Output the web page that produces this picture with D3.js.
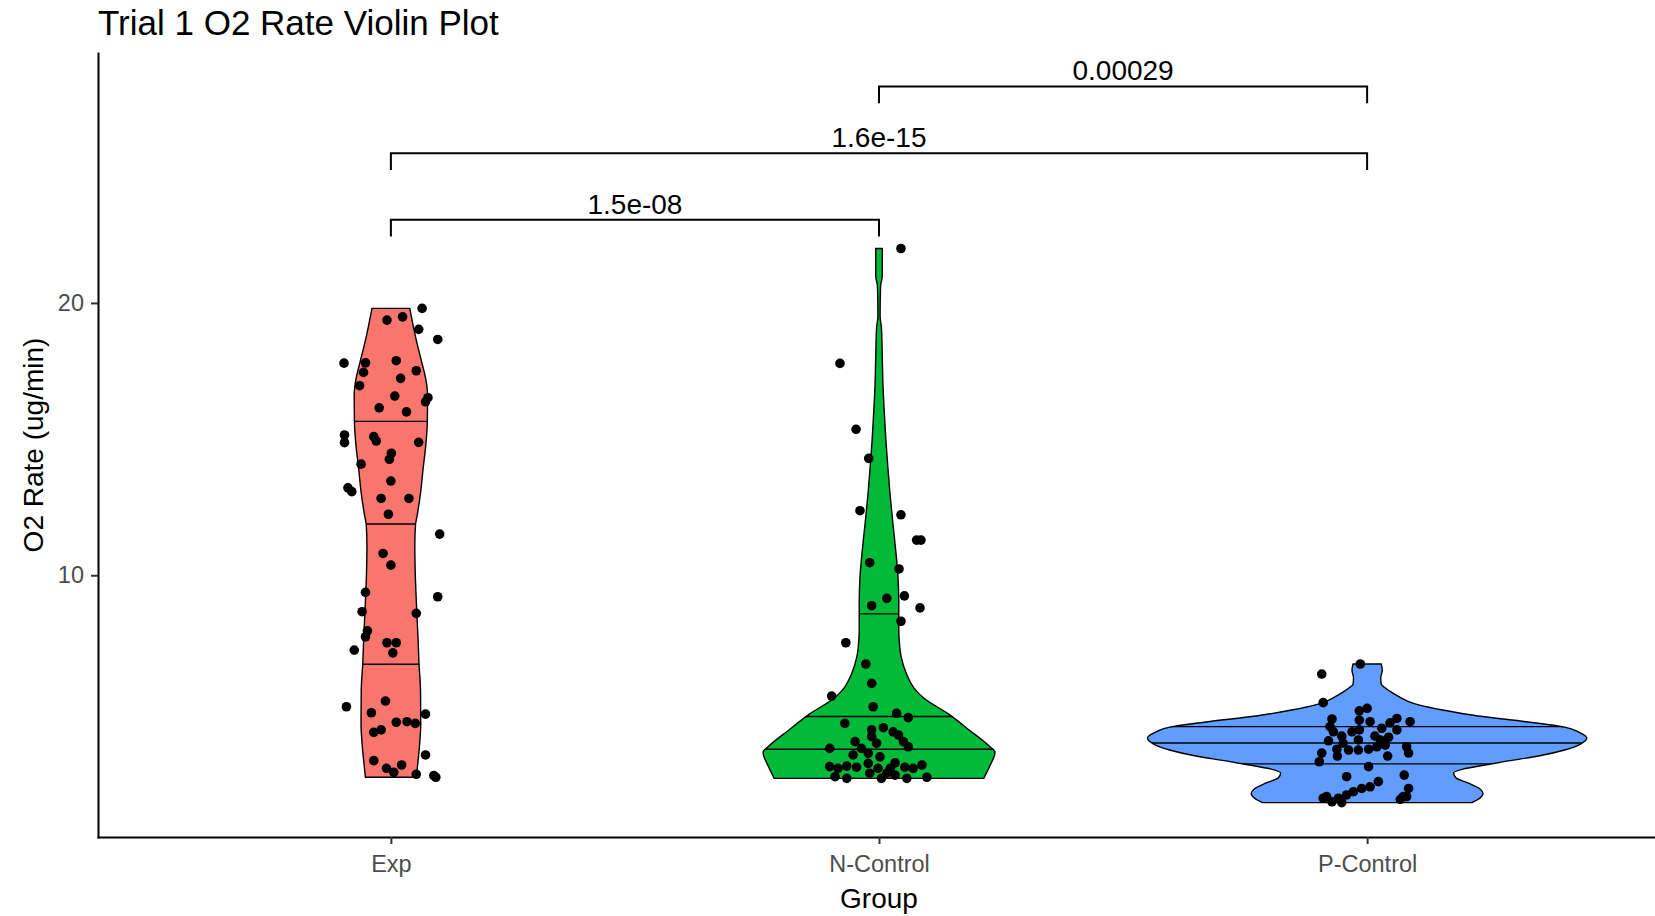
<!DOCTYPE html>

<head>
  <meta charset="utf-8">
  <title>Trial 1 O2 Rate Violin Plot</title>
  <style>
    body {
      margin: 0;
      background: #fff;
    }

    text {
      font-family: "Liberation Sans", Arial, sans-serif;
    }

    .violin {
      stroke: #000;
      stroke-width: 1.4;
    }

    .quant {
      stroke: #000;
      stroke-width: 1.4;
    }

    .axis path {
      stroke: #000;
      stroke-width: 2;
      stroke-linecap: square;
    }

    .axis line {
      stroke: #333;
      stroke-width: 2;
    }

    .axis text {
      fill: #4d4d4d;
      font-size: 23.5px;
    }

    .bracket {
      fill: none;
      stroke: #000;
      stroke-width: 2;
    }
  </style>
</head>

<body>
  <div id="violin"></div>

  <script src="https://d3js.org/d3.v7.min.js"></script>

  <script>
    // ---- data ----
    const groups = ['Exp', 'N-Control', 'P-Control'];
    const yTicks = [10, 20];

    // jittered points: O2 rate and horizontal jitter (fraction of group step)
    const expValues = [19.80, 19.49, 19.37, 19.03, 18.66, 17.79, 17.80, 17.88, 17.45, 17.51,
      17.23, 16.96, 16.58, 16.52, 16.37, 16.15, 16.00, 15.15, 14.87, 15.09,
      14.93, 14.88, 14.48, 14.26, 14.08, 13.21, 13.07, 13.46, 12.82, 12.82,
      12.24, 11.51, 10.80, 10.37, 9.37, 9.21, 8.66, 8.60, 7.96, 7.74,
      7.25, 7.52, 7.52, 7.15, 5.17, 5.38, 4.95, 4.90, 4.60, 4.62,
      4.56, 4.23, 4.32, 3.40, 3.19, 2.91, 2.76, 3.03, 2.69, 2.64, 2.58];
    const expJitter = [0.064, 0.024, -0.008, 0.057, 0.096, -0.096, -0.052, 0.011, -0.056, 0.052,
      0.020, -0.064, 0.008, 0.076, 0.071, -0.024, 0.032, -0.095, -0.095, -0.035,
      -0.030, 0.057, 0.001, -0.003, -0.061, -0.088, -0.080, 0.000, -0.020, 0.037,
      -0.005, 0.100, -0.016, 0.000, -0.052, 0.096, -0.059, 0.052, -0.048, -0.052,
      -0.075, -0.008, 0.011, 0.004, -0.091, -0.011, -0.040, 0.071, 0.011, 0.033,
      0.050, -0.035, -0.020, 0.071, -0.035, -0.009, 0.006, 0.022, 0.052, 0.088, 0.092];

    const nValues = [22.0, 17.78, 15.36, 14.29, 12.37, 12.22, 11.29, 11.29, 10.46, 10.23,
      9.24, 9.15, 8.88, 8.80, 8.31, 7.52, 6.74, 6.03, 5.56, 5.17,
      4.93, 4.77, 4.56, 4.40, 4.32, 4.25, 4.13, 4.07, 3.89, 3.89,
      3.83, 3.70, 3.64, 3.64, 3.40, 3.46, 3.33, 2.97, 2.91, 2.99,
      2.95, 3.09, 2.91, 2.91, 3.11, 2.95, 2.91, 3.03, 2.60, 2.54,
      2.54, 2.54, 2.58, 2.73, 2.73, 2.66];
    const nJitter = [0.045, -0.080, -0.047, -0.021, -0.039, 0.045, 0.077, 0.086, -0.019, 0.041,
      0.052, 0.016, -0.015, 0.084, 0.045, -0.068, -0.027, -0.015, -0.097, -0.012,
      0.036, 0.060, -0.070, 0.009, -0.015, 0.029, 0.040, -0.015, 0.050, -0.049,
      -0.005, 0.060, -0.101, -0.036, -0.053, -0.022, 0.002, -0.101, -0.084, -0.066,
      -0.046, -0.022, -0.002, 0.023, 0.033, 0.053, 0.070, 0.088, -0.090, -0.066,
      0.005, 0.057, 0.098, -0.019, 0.016, 0.033];

    const pValues = [6.74, 6.37, 5.32, 5.02, 5.11, 4.72, 4.68, 4.62, 4.74, 4.62,
      4.58, 4.44, 4.32, 4.25, 4.38, 4.32, 4.25, 4.09, 4.09, 4.05,
      3.95, 3.92, 3.83, 3.95, 3.76, 3.61, 3.58, 3.58, 3.61, 3.70,
      3.70, 3.47, 3.47, 3.36, 3.15, 3.36, 2.97, 2.60, 2.66, 2.42,
      2.23, 2.17, 2.05, 2.17, 1.93, 1.81, 1.87, 1.68, 1.65, 1.87,
      1.87, 1.81, 1.77];
    const pJitter = [-0.014, -0.093, -0.090, -0.016, 0.000, -0.072, -0.016, 0.006, 0.061, 0.088,
      0.047, -0.076, -0.016, -0.069, 0.030, 0.061, -0.031, -0.052, 0.016, 0.044,
      -0.018, -0.079, -0.049, 0.027, 0.037, -0.062, -0.038, -0.018, 0.003, 0.020,
      0.081, 0.085, -0.093, -0.061, -0.098, 0.042, 0.003, -0.042, 0.076, 0.023,
      0.006, -0.011, -0.028, 0.085, -0.042, -0.059, -0.083, -0.072, -0.052, 0.074,
      0.081, -0.090, 0.068];

    // violin outlines: O2 rate and relative density (1 = widest violin)
    const expDensV = [19.80, 19.07, 18.45, 17.84, 17.11, 16.62, 15.64, 14.78, 13.93, 12.95,
      12.21, 11.84, 11.11, 10.07, 8.84, 7.62, 6.76, 5.78, 4.56, 3.70, 2.97, 2.58];
    const expDens = [0.086, 0.104, 0.121, 0.140, 0.161, 0.167, 0.166, 0.159, 0.147, 0.134,
      0.120, 0.112, 0.109, 0.111, 0.117, 0.124, 0.128, 0.135, 0.136, 0.130, 0.121, 0.116];

    const nDensV = [22.0, 21.0, 20.6, 19.5, 19.1, 18.0, 17.0, 16.0, 15.0, 14.0,
      13.0, 12.0, 11.0, 10.0, 9.0, 8.0, 7.5, 7.0, 6.4, 5.8,
      5.5, 4.9, 4.3, 3.7, 3.5, 3.0, 2.54];
    const nDens = [0.015, 0.015, 0.007, 0.005, 0.011, 0.015, 0.018, 0.024, 0.031, 0.040,
      0.050, 0.062, 0.075, 0.086, 0.090, 0.090, 0.093, 0.101, 0.124, 0.165,
      0.202, 0.317, 0.413, 0.505, 0.528, 0.505, 0.477];

    const pDensV = [6.74, 6.52, 6.22, 6.00, 5.86, 5.71, 5.53, 5.38, 5.23, 5.05,
      4.83, 4.61, 4.43, 4.24, 4.02, 3.80, 3.58, 3.36, 3.18, 3.03,
      2.88, 2.74, 2.56, 2.37, 2.15, 1.97, 1.82, 1.65];
    const pDens = [0.064, 0.069, 0.062, 0.064, 0.083, 0.110, 0.147, 0.183, 0.239, 0.344,
      0.505, 0.734, 0.894, 0.963, 1.000, 0.972, 0.899, 0.780, 0.642, 0.537,
      0.436, 0.394, 0.404, 0.459, 0.514, 0.528, 0.514, 0.477];

    // drawn quantiles (25%, 50%, 75%)
    const expQuant = [6.73, 11.88, 15.65];
    const nQuant = [3.61, 4.81, 8.58];
    const pQuant = [3.07, 3.84, 4.44];

    // significance brackets
    const bracketStart = ['Exp', 'Exp', 'N-Control'];
    const bracketEnd = ['N-Control', 'P-Control', 'P-Control'];
    const bracketY = [23.06, 25.50, 27.95];
    const bracketTip = [22.44, 24.88, 27.33];
    const bracketLabels = ['1.5e-08', '1.6e-15', '0.00029'];

    const fills = ['#F8766D', '#00BA38', '#619CFF'];

    // ---- layout ----
    const W = 1655, H = 916;
    const panel = { left: 98, right: 1660, top: 53, bottom: 837 };

    const svg = d3.select('#violin')
      .append('svg')
      .attr('width', W)
      .attr('height', H);

    const x = d3.scalePoint()
      .domain(groups)
      .range([panel.left, panel.right])
      .padding(0.6);

    const y = d3.scaleLinear()
      .domain([0.386, 29.18])
      .range([panel.bottom, panel.top]);

    const step = x.step();
    const maxHalf = 0.45 * step;

    const violins = [
      { g: 'Exp', dv: expDensV, d: expDens, q: expQuant, v: expValues, j: expJitter },
      { g: 'N-Control', dv: nDensV, d: nDens, q: nQuant, v: nValues, j: nJitter },
      { g: 'P-Control', dv: pDensV, d: pDens, q: pQuant, v: pValues, j: pJitter }
    ];

    const defs = svg.append('defs');

    violins.forEach((vl, i) => {
      const cx = x(vl.g);
      const prof = vl.dv.map((v, k) => ({ v: v, d: vl.d[k] }));

      const area = d3.area()
        .curve(d3.curveMonotoneY)
        .y(p => y(p.v))
        .x0(p => cx - p.d * maxHalf)
        .x1(p => cx + p.d * maxHalf);

      defs.append('clipPath')
        .attr('id', 'clip' + i)
        .append('path')
        .attr('d', area(prof));

      svg.append('path')
        .attr('class', 'violin')
        .attr('fill', fills[i])
        .attr('d', area(prof));

      // quantile lines clipped to the violin shape
      svg.append('g')
        .attr('clip-path', `url(#clip${i})`)
        .selectAll('line')
        .data(vl.q)
        .join('line')
        .attr('class', 'quant')
        .attr('x1', cx - maxHalf)
        .attr('x2', cx + maxHalf)
        .attr('y1', d => y(d))
        .attr('y2', d => y(d));
    });

    // jittered points
    violins.forEach(vl => {
      const cx = x(vl.g);
      svg.append('g')
        .selectAll('circle')
        .data(vl.v)
        .join('circle')
        .attr('cx', (d, k) => cx + vl.j[k] * step)
        .attr('cy', d => y(d))
        .attr('r', 4.8)
        .attr('fill', '#000');
    });

    // axes
    svg.append('g')
      .attr('class', 'axis')
      .attr('transform', `translate(0, ${panel.bottom})`)
      .call(d3.axisBottom(x).tickSize(7).tickSizeOuter(0).tickPadding(11));

    svg.append('g')
      .attr('class', 'axis')
      .attr('transform', `translate(${panel.left}, 0)`)
      .call(d3.axisLeft(y).tickValues(yTicks).tickSize(7).tickSizeOuter(0).tickPadding(7));

    // brackets
    bracketLabels.forEach((lab, i) => {
      const x1 = x(bracketStart[i]), x2 = x(bracketEnd[i]);
      const yb = y(bracketY[i]), yt = y(bracketTip[i]);
      svg.append('path')
        .attr('class', 'bracket')
        .attr('d', `M${x1},${yt}V${yb}H${x2}V${yt}`);
      svg.append('text')
        .attr('x', (x1 + x2) / 2)
        .attr('y', yb - 6)
        .attr('text-anchor', 'middle')
        .style('font-size', '28px')
        .text(lab);
    });

    // titles
    svg.append('text')
      .attr('x', panel.left)
      .attr('y', 35)
      .style('font-size', '35px')
      .text('Trial 1 O2 Rate Violin Plot');

    svg.append('text')
      .attr('x', (panel.left + panel.right) / 2)
      .attr('y', 908)
      .attr('text-anchor', 'middle')
      .style('font-size', '28px')
      .text('Group');

    svg.append('text')
      .attr('transform', `translate(43, ${(panel.top + panel.bottom) / 2}) rotate(-90)`)
      .attr('text-anchor', 'middle')
      .style('font-size', '28px')
      .text('O2 Rate (ug/min)');
  </script>
</body>

</html>
